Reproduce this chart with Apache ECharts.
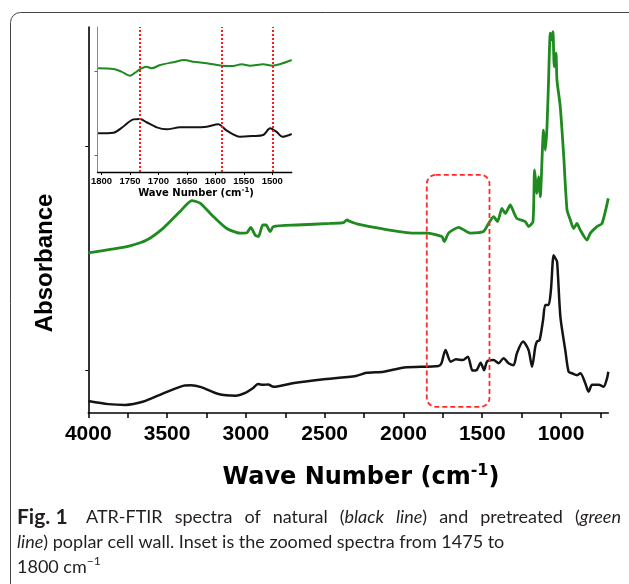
<!DOCTYPE html>
<html>
<head>
<meta charset="utf-8">
<script src="https://cdn.jsdelivr.net/npm/echarts@6/dist/echarts.min.js"></script>
<style>
html,body{margin:0;padding:0;background:#fff;}
#chart{width:629px;height:584px;}
</style>
</head>
<body>
<div id="chart"></div>
<script>
// ---- Main spectra (wave number cm-1, absorbance a.u.) ----
const blackWn = [4000,3873,3764,3655,3524,3393,3349,3284,3174,3065,3000,2956,2923,2890,2858,2825,2694,2519,2301,2235,2126,1995,1777,1759,1733,1700,1667,1624,1591,1562,1536,1510,1488,1470,1428,1396,1365,1333,1301,1280,1241,1206,1184,1163,1153,1136,1114,1100,1079,1064,1047,1036,1025,1004,973,952,930,898,877,846,825,803,761,730,708,700];
const blackAbs = [0.031,0.023,0.021,0.029,0.051,0.071,0.072,0.067,0.049,0.045,0.053,0.064,0.075,0.073,0.074,0.068,0.078,0.087,0.096,0.104,0.107,0.118,0.122,0.129,0.163,0.133,0.139,0.137,0.146,0.110,0.111,0.130,0.111,0.133,0.137,0.129,0.142,0.129,0.124,0.155,0.185,0.163,0.120,0.172,0.185,0.189,0.241,0.280,0.280,0.319,0.409,0.401,0.392,0.249,0.163,0.107,0.103,0.098,0.103,0.077,0.055,0.073,0.073,0.068,0.090,0.107];

const greenWn = [4000,3841,3735,3629,3524,3418,3343,3291,3206,3121,3037,2994,2969,2941,2920,2893,2872,2846,2825,2677,2465,2381,2359,2338,2296,2148,1936,1851,1756,1741,1714,1650,1576,1492,1460,1428,1403,1375,1354,1322,1301,1280,1227,1206,1178,1168,1153,1142,1132,1111,1100,1089,1079,1068,1057,1051,1043,1032,1026,1005,984,962,941,920,899,878,835,814,772,740,700];
const greenAbs = [0.415,0.425,0.433,0.448,0.479,0.522,0.550,0.544,0.509,0.478,0.466,0.467,0.481,0.461,0.457,0.487,0.487,0.470,0.483,0.487,0.491,0.493,0.500,0.496,0.490,0.478,0.466,0.466,0.457,0.444,0.466,0.481,0.466,0.470,0.491,0.509,0.496,0.530,0.517,0.539,0.521,0.504,0.496,0.483,0.496,0.630,0.569,0.612,0.560,0.733,0.681,0.742,0.863,0.984,0.966,0.988,0.897,0.932,0.863,0.794,0.673,0.526,0.500,0.478,0.491,0.474,0.448,0.466,0.483,0.491,0.556];

// ---- Inset (1466-1807 cm-1) ----
const insetGreenWn = [1806,1779,1765,1750,1741,1732,1721,1712,1697,1674,1654,1639,1615,1588,1569,1554,1539,1516,1500,1487,1466];
const insetGreenAbs = [0.715,0.710,0.692,0.664,0.685,0.710,0.726,0.715,0.738,0.757,0.772,0.761,0.750,0.733,0.731,0.743,0.733,0.743,0.733,0.743,0.772];
const insetBlackWn = [1806,1779,1762,1744,1732,1721,1703,1686,1662,1639,1615,1595,1580,1557,1534,1516,1504,1493,1482,1466];
const insetBlackAbs = [0.267,0.271,0.312,0.363,0.366,0.343,0.308,0.294,0.308,0.308,0.312,0.329,0.285,0.243,0.248,0.255,0.301,0.278,0.243,0.262];
const insetMarkers = [1732, 1588, 1500];

// ---- Highlight box (cm-1 range, absorbance range) ----
const boxWn = [1852, 1454];
const boxAbs = [0.617, 0.016];

// ---- Tick values ----
const xLabelValues = [4000,3500,3000,2500,2000,1500,1000];
const xTickValues = [4000,3750,3500,3250,3000,2750,2500,2250,2000,1750,1500,1250,1000,750];
const yTickValues = [0.111, 0.692];
const insetLabelValues = [1800,1750,1700,1650,1600,1550,1500];
const insetYTickValues = [0.117, 0.692];

const zip = (a, b) => a.map((v, i) => [v, b[i]]);
const plain = v => String(v);

const chart = echarts.init(document.getElementById('chart'), null, {renderer: 'canvas'});

const capFont = 'Lato';
const capStyle = {fontFamily: capFont, fontSize: 18, fill: '#231f20'};

const option = {
  animation: false,
  backgroundColor: '#fff',
  grid: [
    {left: 88.3, right: 20.7, top: 27, bottom: 171, outerBoundsMode: 'none', containLabel: false},
    {left: 97.5, right: 337.3, top: 27, bottom: 412, outerBoundsMode: 'none', containLabel: false}
  ],
  xAxis: [
    {
      type: 'value', gridIndex: 0, min: 700, max: 4000, inverse: true,
      axisLine: {show: true, onZero: false, lineStyle: {color: '#000', width: 1.6}},
      axisTick: {show: true, inside: false, length: 5, customValues: xTickValues, lineStyle: {color: '#000', width: 1.5}},
      axisLabel: {show: true, customValues: xLabelValues, formatter: plain, fontFamily: 'Liberation Sans', fontWeight: 'bold', fontSize: 21, color: '#000', margin: 11},
      splitLine: {show: false}
    },
    {
      type: 'value', gridIndex: 1, min: 1466, max: 1807, inverse: true,
      axisLine: {show: true, onZero: false, lineStyle: {color: '#000', width: 1.4}},
      axisTick: {show: true, inside: false, length: 3, customValues: insetLabelValues, lineStyle: {color: '#000', width: 1}},
      axisLabel: {show: true, customValues: insetLabelValues, formatter: plain, fontFamily: 'Liberation Sans', fontWeight: 'bold', fontSize: 9.5, color: '#000', margin: 4},
      splitLine: {show: false}
    }
  ],
  yAxis: [
    {
      type: 'value', gridIndex: 0, min: 0, max: 1,
      axisLine: {show: true, onZero: false, lineStyle: {color: '#000', width: 1.6}},
      axisTick: {show: true, inside: false, length: 3, customValues: yTickValues, lineStyle: {color: '#000', width: 1}},
      axisLabel: {show: false},
      splitLine: {show: false}
    },
    {
      type: 'value', gridIndex: 1, min: 0, max: 1,
      axisLine: {show: true, onZero: false, lineStyle: {color: '#888', width: 1}},
      axisTick: {show: true, inside: false, length: 3, customValues: insetYTickValues, lineStyle: {color: '#666', width: 1}},
      axisLabel: {show: false},
      splitLine: {show: false}
    }
  ],
  series: [
    {
      name: 'natural', type: 'line', xAxisIndex: 0, yAxisIndex: 0,
      data: zip(blackWn, blackAbs), showSymbol: false, symbol: 'none', smooth: 0.25,
      lineStyle: {color: '#141414', width: 2.5}, z: 3
    },
    {
      name: 'pretreated', type: 'line', xAxisIndex: 0, yAxisIndex: 0,
      data: zip(greenWn, greenAbs), showSymbol: false, symbol: 'none', smooth: 0.2,
      lineStyle: {color: '#1f8a1f', width: 2.8}, z: 3
    },
    {
      name: 'box', type: 'custom', xAxisIndex: 0, yAxisIndex: 0,
      data: [[boxWn[0], boxAbs[0], boxWn[1], boxAbs[1]]],
      renderItem: function (params, api) {
        const p1 = api.coord([api.value(0), api.value(1)]);
        const p2 = api.coord([api.value(2), api.value(3)]);
        return {
          type: 'rect',
          shape: {x: Math.min(p1[0], p2[0]), y: Math.min(p1[1], p2[1]), width: Math.abs(p2[0] - p1[0]), height: Math.abs(p2[1] - p1[1]), r: 9},
          style: {fill: 'none', stroke: '#ff2a2a', lineWidth: 1.8, lineDash: [5, 3]}
        };
      },
      z: 4
    },
    {
      name: 'insetNatural', type: 'line', xAxisIndex: 1, yAxisIndex: 1,
      data: zip(insetBlackWn, insetBlackAbs), showSymbol: false, symbol: 'none', smooth: 0.3,
      lineStyle: {color: '#141414', width: 2}, z: 3
    },
    {
      name: 'insetPretreated', type: 'line', xAxisIndex: 1, yAxisIndex: 1,
      data: zip(insetGreenWn, insetGreenAbs), showSymbol: false, symbol: 'none', smooth: 0.3,
      lineStyle: {color: '#1f8a1f', width: 2}, z: 3,
      markLine: {
        silent: true, symbol: ['none', 'none'], label: {show: false},
        lineStyle: {color: '#ff1a1a', type: 'dotted', width: 2},
        data: insetMarkers.map(v => ({xAxis: v})),
        z: 5
      }
    }
  ],
  graphic: [
    {
      type: 'rect', z: -10, silent: true,
      shape: {x: 10.5, y: 12.5, width: 660, height: 640, r: 10},
      style: {fill: 'none', stroke: '#444', lineWidth: 1}
    },
    {
      type: 'text', x: 45, y: 263, rotation: Math.PI / 2,
      style: {text: 'Absorbance', fontFamily: 'Liberation Sans', fontWeight: 'bold', fontSize: 24, fill: '#000', align: 'center', verticalAlign: 'middle'}
    },
    {
      type: 'text', x: 361, y: 478,
      style: {
        text: 'Wave Number (cm{sup|-1})',
        fontFamily: 'DejaVu Sans', fontWeight: 'bold', fontSize: 24, fill: '#000', align: 'center', verticalAlign: 'middle', lineHeight: 30,
        rich: {sup: {fontFamily: 'DejaVu Sans', fontWeight: 'bold', fontSize: 16, fill: '#000', verticalAlign: 'top', lineHeight: 16}}
      }
    },
    {
      type: 'text', x: 196, y: 193,
      style: {
        text: 'Wave Number (cm{sup|-1})',
        fontFamily: 'DejaVu Sans', fontWeight: 'bold', fontSize: 10, fill: '#000', align: 'center', verticalAlign: 'middle', lineHeight: 13,
        rich: {sup: {fontFamily: 'DejaVu Sans', fontWeight: 'bold', fontSize: 7, fill: '#000', verticalAlign: 'top', lineHeight: 7}}
      }
    },
    {
      // justified first caption line: word gaps widened
      type: 'text', x: 17, y: 517,
      style: Object.assign({}, capStyle, {
        text: '{b|Fig. 1}ATR-FTIR{s| }spectra{s| }of{s| }natural{s| }({i|black}{s| }{i|line}){s| }and{s| }pretreated{s| }({i|green}',
        align: 'left', verticalAlign: 'middle',
        rich: {
          b: {fontFamily: capFont, fontWeight: 'bold', fontSize: 21, fill: '#231f20', width: 69},
          i: {fontFamily: capFont, fontStyle: 'italic', fontSize: 18, fill: '#231f20'},
          s: {fontFamily: capFont, fontSize: 18, width: 12}
        }
      })
    },
    {
      type: 'text', x: 17, y: 542,
      style: Object.assign({}, capStyle, {
        text: '{i|line}) poplar cell wall. Inset is the zoomed spectra from 1475 to',
        align: 'left', verticalAlign: 'middle',
        rich: {i: {fontFamily: capFont, fontStyle: 'italic', fontSize: 18, fill: '#231f20'}}
      })
    },
    {
      type: 'text', x: 17, y: 567,
      style: Object.assign({}, capStyle, {
        text: '1800 cm{sup|\u22121}',
        align: 'left', verticalAlign: 'middle', lineHeight: 24,
        rich: {sup: {fontFamily: capFont, fontSize: 12, fill: '#231f20', verticalAlign: 'top', lineHeight: 12}}
      })
    }
  ]
};

chart.setOption(option);
</script>
</body>
</html>
